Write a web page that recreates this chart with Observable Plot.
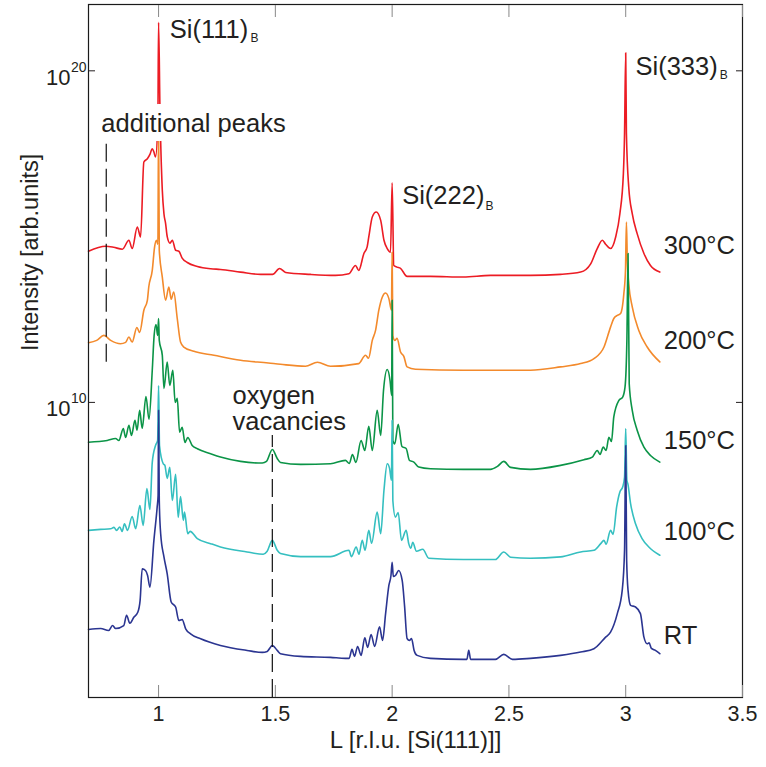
<!DOCTYPE html>
<html><head><meta charset="utf-8">
<script src="https://cdn.jsdelivr.net/npm/d3@7"></script>
<script src="https://cdn.jsdelivr.net/npm/@observablehq/plot@0.6"></script>
<style>body{margin:0;background:#fff}</style>
</head><body><div id="chart"></div>
<script>
// ---- data: [L (r.l.u.), log10(intensity)] ----
const s300 = [[0.700,14.56],[0.773,14.71],[0.807,14.68],[0.845,14.62],[0.873,14.89],[0.887,14.64],[0.909,15.29],[0.923,14.99],[0.937,17.25],[0.952,17.35],[0.963,17.48],[0.973,17.65],[0.980,17.55],[0.987,17.40],[0.997,18.51],[1.000,21.46],[1.006,18.81],[1.016,16.40],[1.023,15.69],[1.030,15.40],[1.037,15.00],[1.049,14.80],[1.059,14.89],[1.073,14.59],[1.087,14.56],[1.101,14.35],[1.123,14.22],[1.166,14.10],[1.223,14.03],[1.265,14.01],[1.351,13.93],[1.437,13.86],[1.488,13.86],[1.518,14.04],[1.544,13.92],[1.651,13.86],[1.757,13.83],[1.815,13.88],[1.843,14.13],[1.857,13.98],[1.879,14.49],[1.893,14.69],[1.900,14.99],[1.915,15.59],[1.932,15.74],[1.951,15.49],[1.965,14.89],[1.979,14.64],[1.993,14.53],[2.000,16.62],[2.007,14.13],[2.021,14.08],[2.036,14.04],[2.064,13.80],[2.164,13.80],[2.305,13.78],[2.421,13.83],[2.592,13.83],[2.721,13.86],[2.807,13.93],[2.850,14.18],[2.878,14.64],[2.900,14.89],[2.914,14.77],[2.935,14.64],[2.957,14.99],[2.975,15.69],[2.990,16.90],[2.995,18.11],[3.000,20.54],[3.003,18.11],[3.013,16.49],[3.028,15.69],[3.049,15.09],[3.078,14.49],[3.106,14.13],[3.146,13.93]];

const s200 = [[0.700,11.80],[0.735,11.87],[0.766,12.02],[0.795,11.87],[0.837,11.77],[0.859,11.81],[0.873,11.97],[0.887,11.82],[0.907,12.26],[0.919,12.11],[0.937,12.78],[0.952,13.08],[0.958,13.48],[0.973,13.98],[0.983,14.69],[0.991,14.89],[0.997,14.77],[1.000,18.36],[1.003,14.59],[1.016,13.78],[1.030,13.08],[1.044,13.48],[1.054,13.11],[1.065,13.33],[1.080,12.53],[1.094,11.82],[1.108,11.67],[1.151,11.54],[1.237,11.42],[1.351,11.27],[1.470,11.19],[1.522,11.15],[1.629,11.09],[1.680,11.21],[1.736,11.09],[1.857,11.17],[1.886,11.42],[1.899,11.33],[1.915,11.87],[1.929,12.17],[1.943,12.78],[1.958,13.18],[1.972,13.30],[1.986,13.13],[1.997,12.78],[2.000,14.53],[2.003,12.02],[2.011,11.87],[2.021,11.93],[2.036,11.52],[2.050,11.39],[2.064,11.07],[2.100,11.00],[2.305,10.97],[2.592,10.97],[2.721,11.07],[2.807,11.17],[2.864,11.32],[2.907,11.67],[2.935,12.27],[2.949,12.53],[2.966,12.63],[2.978,12.68],[2.992,13.28],[2.999,13.98],[3.003,15.44],[3.007,14.22],[3.013,13.58],[3.028,12.88],[3.056,12.17],[3.092,11.67],[3.146,11.22]];

const s150 = [[0.700,8.80],[0.780,8.85],[0.816,8.91],[0.830,8.85],[0.849,9.21],[0.859,8.94],[0.873,9.31],[0.884,9.00],[0.899,9.46],[0.908,9.16],[0.919,9.76],[0.930,9.22],[0.946,10.18],[0.959,9.49],[0.973,10.97],[0.981,12.02],[0.989,12.35],[0.996,12.02],[1.000,12.53],[1.003,11.87],[1.016,11.42],[1.023,10.42],[1.037,11.22],[1.048,10.51],[1.061,10.97],[1.071,10.00],[1.080,10.12],[1.090,9.10],[1.101,9.25],[1.113,8.79],[1.125,8.94],[1.144,8.70],[1.166,8.60],[1.223,8.45],[1.265,8.35],[1.351,8.22],[1.444,8.17],[1.462,8.22],[1.487,8.58],[1.508,8.31],[1.522,8.19],[1.608,8.13],[1.736,8.15],[1.800,8.25],[1.817,8.16],[1.830,8.43],[1.845,8.19],[1.867,8.85],[1.883,8.55],[1.900,9.28],[1.915,8.55],[1.936,9.76],[1.951,9.00],[1.963,10.36],[1.979,10.99],[1.991,10.66],[1.998,10.21],[2.000,13.08],[2.003,8.85],[2.011,8.75],[2.026,9.34],[2.042,8.67],[2.060,8.61],[2.074,8.25],[2.093,8.20],[2.114,8.05],[2.164,8.00],[2.305,7.98],[2.421,7.98],[2.451,8.07],[2.478,8.22],[2.507,8.04],[2.592,7.98],[2.721,8.10],[2.821,8.27],[2.857,8.35],[2.878,8.55],[2.890,8.43],[2.904,8.65],[2.916,8.55],[2.928,8.95],[2.939,8.82],[2.949,9.56],[2.971,10.06],[2.987,10.16],[2.997,10.46],[3.005,11.87],[3.010,14.49],[3.015,10.56],[3.028,9.76],[3.049,9.16],[3.078,8.65],[3.106,8.40],[3.146,8.20]];

const s100 = [[0.700,6.14],[0.752,6.17],[0.795,6.19],[0.809,6.23],[0.820,6.14],[0.834,6.24],[0.844,6.11],[0.854,6.34],[0.867,6.14],[0.887,6.56],[0.902,6.19],[0.920,6.89],[0.934,6.29],[0.950,7.40],[0.963,6.77],[0.973,8.19],[0.987,8.70],[0.996,8.85],[1.000,10.51],[1.004,8.70],[1.020,8.15],[1.027,8.10],[1.037,7.71],[1.048,8.04],[1.059,7.04],[1.073,7.83],[1.084,6.53],[1.094,7.16],[1.106,6.44],[1.111,6.69],[1.125,6.04],[1.135,6.11],[1.166,5.89],[1.223,5.74],[1.265,5.64],[1.379,5.49],[1.448,5.42],[1.465,5.51],[1.487,5.84],[1.508,5.54],[1.522,5.44],[1.608,5.35],[1.736,5.35],[1.815,5.54],[1.826,5.35],[1.846,5.64],[1.858,5.42],[1.872,5.84],[1.884,5.54],[1.900,6.14],[1.912,5.75],[1.936,6.69],[1.951,6.04],[1.965,7.35],[1.979,8.15],[1.989,8.01],[1.997,7.65],[2.000,9.46],[2.003,7.04],[2.014,6.54],[2.026,6.68],[2.040,5.84],[2.060,6.14],[2.071,5.74],[2.080,5.60],[2.088,5.78],[2.104,5.51],[2.131,5.57],[2.157,5.30],[2.305,5.26],[2.442,5.26],[2.478,5.49],[2.507,5.33],[2.592,5.30],[2.721,5.34],[2.807,5.49],[2.864,5.54],[2.893,5.74],[2.907,5.84],[2.916,5.72],[2.935,6.14],[2.946,6.02],[2.961,6.84],[2.975,7.30],[2.987,7.45],[2.995,7.75],[3.000,9.21],[3.005,7.65],[3.009,7.55],[3.021,6.94],[3.042,6.34],[3.070,5.89],[3.099,5.64],[3.146,5.39]];

const sRT = [[0.700,3.15],[0.752,3.18],[0.786,3.12],[0.803,3.27],[0.816,3.18],[0.851,3.27],[0.863,3.58],[0.877,3.34],[0.894,3.52],[0.911,3.67],[0.921,4.03],[0.930,4.98],[0.944,4.93],[0.953,4.78],[0.963,4.43],[0.980,5.84],[0.994,6.84],[0.998,7.19],[1.000,9.76],[1.003,7.04],[1.009,6.04],[1.023,5.34],[1.037,4.83],[1.054,3.98],[1.073,3.83],[1.087,3.42],[1.101,3.45],[1.116,3.17],[1.137,3.02],[1.180,2.87],[1.265,2.67],[1.379,2.52],[1.444,2.46],[1.465,2.49],[1.487,2.67],[1.508,2.52],[1.522,2.42],[1.608,2.34],[1.736,2.31],[1.800,2.28],[1.816,2.28],[1.828,2.55],[1.839,2.34],[1.852,2.64],[1.867,2.37],[1.883,2.90],[1.895,2.61],[1.910,3.00],[1.925,2.64],[1.946,3.23],[1.959,2.82],[1.972,3.63],[1.986,4.48],[1.995,4.78],[2.000,5.18],[2.005,4.75],[2.014,4.78],[2.028,4.93],[2.043,4.63],[2.053,3.88],[2.064,2.88],[2.074,2.82],[2.083,2.88],[2.094,2.52],[2.107,2.37],[2.164,2.28],[2.305,2.25],[2.320,2.25],[2.328,2.52],[2.336,2.25],[2.442,2.25],[2.478,2.40],[2.515,2.25],[2.592,2.28],[2.721,2.37],[2.807,2.47],[2.864,2.57],[2.914,2.92],[2.935,3.07],[2.964,3.63],[2.985,4.33],[2.995,5.54],[3.000,8.70],[3.004,5.24],[3.010,4.33],[3.021,3.88],[3.042,3.83],[3.063,3.63],[3.078,2.92],[3.092,2.72],[3.100,2.75],[3.110,2.58],[3.127,2.52],[3.146,2.42]];

const seriesNames = ["300°C", "200°C", "150°C", "100°C", "RT"];
const xTicks = [1, 1.5, 2, 2.5, 3, 3.5];
const yTickExponents = [10, 20];
const braggNames = ["Si(111)", "Si(222)", "Si(333)"];
const additionalPeakL = [0.776];
const oxygenVacancyL = [1.487];

// ---- build ----
const colors = ["#ec1c24", "#f38a2c", "#0b9447", "#35bfc0", "#2b3591"];
const seriesData = [s300, s200, s150, s100, sRT];
const rows = a => a.map(([L, e]) => ({L, I: 10 ** e}));
const P = e => 10 ** e;
const FONT = 25.5;
const ink = "#231f20";

const lineMarks = seriesData.map((s, i) =>
  Plot.line(rows(s), {x: "L", y: "I", stroke: colors[i], strokeWidth: 1.6, curve: "monotone-x"}));

const labelPos = [14.49, 11.62, 8.60, 5.86, 2.70];

const chart = Plot.plot({
  width: 766, height: 767,
  marginLeft: 88, marginRight: 24, marginTop: 4, marginBottom: 70,
  style: {fontFamily: "'Liberation Sans', Arial, sans-serif", background: "white", color: ink},
  x: {domain: [0.7, 3.5], label: null},
  y: {type: "log", domain: [P(1.10), P(22.0)], label: null},
  marks: [
    ...lineMarks,
    // dashed markers
    Plot.ruleX(additionalPeakL, {y1: P(11.21), y2: P(17.96), stroke: "#111", strokeWidth: 1.2, strokeDasharray: "18,7"}),
    Plot.ruleX(oxygenVacancyL, {y1: P(1.10), y2: P(9.00), stroke: "#111", strokeWidth: 1.2, strokeDasharray: "18,7"}),
    // frame & axes
    Plot.frame({stroke: "#1a1a1a", strokeWidth: 1.2}),
    Plot.axisX({anchor: "bottom", ticks: xTicks, tickSize: -12, tickPadding: 20, tickFormat: d => String(d), fontSize: 21.5, stroke: "#888", fill: ink, label: null}),
    Plot.axisX({anchor: "top", ticks: xTicks, tickSize: -12, tickFormat: () => "", stroke: "#888", label: null}),
    Plot.axisY({anchor: "left", ticks: yTickExponents.map(P), tickSize: -7, tickFormat: () => "", stroke: ink, label: null}),
    Plot.axisY({anchor: "right", ticks: yTickExponents.map(P), tickSize: -7, tickFormat: () => "", stroke: ink, label: null}),
    // y tick labels 10^n
    Plot.text(yTickExponents, {x: 0.7, y: d => P(d), text: () => "10", textAnchor: "end", lineAnchor: "bottom", dx: -18, dy: 14, fontSize: 22, fill: ink}),
    Plot.text(yTickExponents, {x: 0.7, y: d => P(d), text: d => String(d), textAnchor: "end", lineAnchor: "bottom", dx: -2, dy: 1, fontSize: 14, fill: ink}),
    // axis titles
    Plot.text(["L [r.l.u. [Si(111)]]"], {frameAnchor: "bottom", dy: 50, fontSize: 24, fill: ink}),
    Plot.text(["Intensity [arb.units]"], {frameAnchor: "left", rotate: -90, dx: -58, fontSize: 23.5, fill: ink}),
    // series labels
    Plot.text(seriesNames, {x: 3.163, y: (d, i) => P(labelPos[i]), text: d => d, textAnchor: "start", lineAnchor: "bottom", fontSize: FONT, fill: ink}),
    // Bragg peak labels
    Plot.text(braggNames, {x: [1.048, 2.043, 3.042], y: [P(21.00), P(15.99), P(19.86)], text: d => d, textAnchor: "start", lineAnchor: "bottom", fontSize: FONT, fill: ink}),
    Plot.text(["B", "B", "B"], {x: [1.394, 2.400, 3.403], y: [P(20.87), P(15.79), P(19.76)], text: d => d, textAnchor: "start", lineAnchor: "bottom", fontSize: 12, fill: ink}),
    // annotations
    Plot.text(["additional peaks"], {x: 0.755, y: P(18.15), textAnchor: "start", lineAnchor: "bottom", fontSize: FONT, fill: ink, stroke: "white", strokeWidth: 18, strokeLinejoin: "round"}),
    Plot.text(["oxygen\nvacancies"], {x: 1.317, y: P(9.16), textAnchor: "start", lineAnchor: "bottom", fontSize: FONT, lineHeight: 1.02, fill: ink})
  ]
});
document.getElementById("chart").appendChild(chart);
</script></body></html>
